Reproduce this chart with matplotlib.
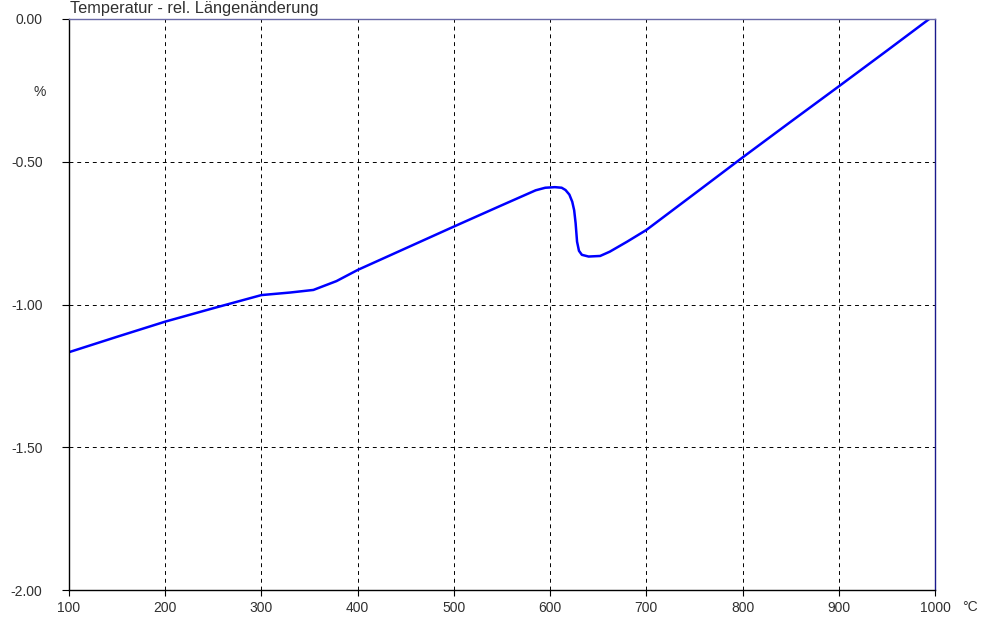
import numpy as np
import matplotlib.pyplot as plt

plt.rcParams['font.family'] = ['Liberation Sans', 'DejaVu Sans']

# Temperatur in °C und relative Längenänderung in %
temp = [100, 150, 200, 250, 300, 330, 354, 378, 400, 450, 500, 548, 585,
        595, 605, 612, 616, 620, 623, 625, 626.5, 628, 630, 633, 640, 652,
        662, 680, 700, 756, 800, 850, 900, 950, 994]
dl = [-1.167, -1.113, -1.060, -1.013, -0.967, -0.958, -0.949, -0.918, -0.879,
      -0.803, -0.727, -0.655, -0.600, -0.591, -0.589, -0.591, -0.599, -0.615,
      -0.640, -0.670, -0.715, -0.780, -0.812, -0.826, -0.832, -0.830, -0.815,
      -0.780, -0.739, -0.597, -0.485, -0.360, -0.236, -0.111, 0.0]

x_ticks = [100, 200, 300, 400, 500, 600, 700, 800, 900, 1000]
y_ticks = [0.0, -0.5, -1.0, -1.5, -2.0]
y_labels = ['0.00', '-0.50', '-1.00', '-1.50', '-2.00']

text_col = '#303030'

fig = plt.figure(figsize=(9.82, 6.21), dpi=100)
ax = fig.add_axes([69 / 982, 1 - 590 / 621, (935 - 69) / 982, (590 - 19) / 621])

ax.plot(temp, dl, color='#0000ff', lw=1.8, solid_capstyle='round')

ax.set_xlim(100, 1000)
ax.set_ylim(-2.0, 0.0)
ax.set_xticks(x_ticks)
ax.set_yticks(y_ticks)
ax.set_yticklabels(y_labels)

ax.grid(True, color='black', linestyle=(0, (4, 4)), linewidth=0.7)

ax.spines['left'].set_color('black')
ax.spines['bottom'].set_color('black')
ax.spines['top'].set_color('#6a6aa8')
ax.spines['right'].set_color('#1a1a8c')
for s in ax.spines.values():
    s.set_linewidth(1.0)

ax.tick_params(axis='y', direction='out', length=5, width=0.8, pad=14,
               labelsize=10, labelcolor=text_col)
ax.tick_params(axis='x', direction='out', length=4, width=0.8, pad=4,
               labelsize=10, labelcolor=text_col)

fig.text(70 / 982, 1 - 9 / 621, 'Temperatur - rel. Längenänderung',
         fontsize=11.8, color=text_col, ha='left', va='center')
fig.text(40 / 982, 1 - 92 / 621, '%', fontsize=10, color=text_col,
         ha='center', va='center')
fig.text(970 / 982, 1 - 607 / 621, '°C', fontsize=10, color=text_col,
         ha='center', va='center')

fig.savefig('out.png', dpi=100)
